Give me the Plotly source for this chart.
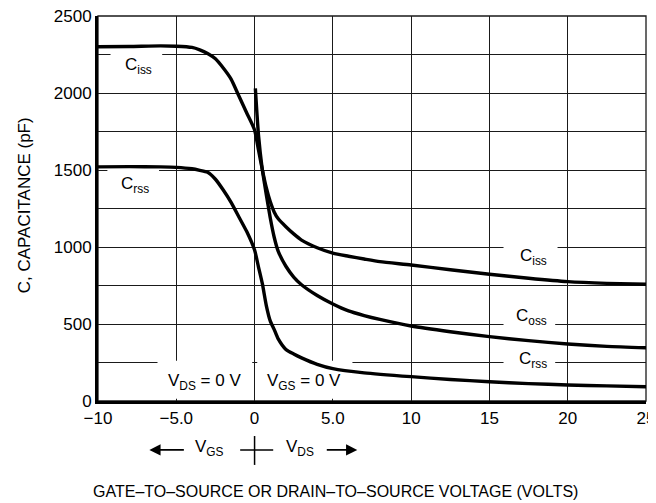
import plotly.graph_objects as go

# ---- data ----
ciss_x = [-10, -8, -6, -5, -4, -3.5, -3, -2.5, -2, -1.5, -1, -0.5, 0, 0.25, 0.5, 0.75, 1.0, 1.25, 1.5, 2, 2.5, 3, 4, 5, 6, 7, 8, 10, 12.5, 15, 17.5, 20, 22.5, 25]
ciss_y = [2300, 2302, 2306, 2304, 2296, 2280, 2256, 2222, 2162, 2090, 1980, 1870, 1760, 1630, 1500, 1385, 1295, 1228, 1185, 1132, 1085, 1045, 995, 960, 940, 922, 905, 883, 852, 823, 797, 775, 764, 758]

coss_x = [0.05, 0.15, 0.26, 0.47, 0.75, 1.0, 1.25, 1.5, 2, 2.5, 3, 4, 5, 6, 7, 8, 10, 12.5, 15, 17.5, 20, 22.5, 25]
coss_y = [2030, 1870, 1716, 1521, 1340, 1190, 1065, 975, 875, 805, 755, 685, 630, 585, 555, 530, 487, 450, 418, 392, 370, 355, 346]

crss_x = [-10, -8, -6, -5, -4, -3.5, -3, -2.5, -2, -1.5, -1, -0.5, 0, 0.25, 0.5, 0.75, 1.0, 1.25, 1.5, 2, 2.5, 3, 4, 5, 7, 10, 12.5, 15, 17.5, 20, 22.5, 25]
crss_y = [1520, 1522, 1520, 1517, 1508, 1498, 1485, 1440, 1370, 1290, 1195, 1100, 980, 870, 760, 620, 520, 465, 405, 335, 305, 280, 238, 210, 183, 158, 140, 125, 113, 104, 98, 93]

x_tickvals = [-10, -5, 0, 5, 10, 15, 20, 25]
x_ticktext = ["\u221210", "\u22125.0", "0", "5.0", "10", "15", "20", "25"]
y_tickvals = [0, 500, 1000, 1500, 2000, 2500]
y_ticktext = ["0", "500", "1000", "1500", "2000", "2500"]

FONT = "Liberation Sans, Arial, sans-serif"
FS = 17
FS_TITLE = 16
GRID = "#1a1a1a"

fig = go.Figure()
for name, xs, ys in [("Ciss", ciss_x, ciss_y), ("Coss", coss_x, coss_y), ("Crss", crss_x, crss_y)]:
    fig.add_trace(go.Scatter(x=xs, y=ys, mode="lines", name=name,
                             line=dict(color="black", width=3.4, shape="spline", smoothing=0.6),
                             hoverinfo="skip"))

# thin frame on top / right
fig.add_shape(type="rect", xref="paper", yref="paper", x0=0, x1=1, y0=0, y1=1,
              line=dict(color=GRID, width=1.3), fillcolor="rgba(0,0,0,0)", layer="between")

# white label backgrounds (between gridlines and traces)
boxes = [(-9.2, -5.9, 2215, 2285), (-9.4, -6.1, 1465, 1535),
         (15.9, 19.35, 960, 1040), (15.9, 19.2, 460, 540), (15.9, 19.2, 215, 290),
         (-6.2, -0.15, 15, 262), (0.17, 6.25, 15, 262)]
for x0, x1, y0, y1 in boxes:
    fig.add_shape(type="rect", xref="x", yref="y", x0=x0, x1=x1, y0=y0, y1=y1,
                  fillcolor="white", line=dict(width=0), layer="between")

labels = [("C<sub>iss</sub>", -7.43, 2175), ("C<sub>rss</sub>", -7.62, 1403),
          ("C<sub>iss</sub>", 17.8, 935), ("C<sub>oss</sub>", 17.7, 545), ("C<sub>rss</sub>", 17.8, 266),
          ("V<sub>DS</sub> = 0 V", -3.2, 123), ("V<sub>GS</sub> = 0 V", 3.17, 123)]
for t, x, y in labels:
    fig.add_annotation(text=t, x=x, y=y, xref="x", yref="y", showarrow=False,
                       xanchor="center", yanchor="middle",
                       font=dict(family=FONT, size=FS, color="black"))

# V_GS / V_DS indicator under the axis
row_y = -0.122
for t, x in [("V<sub>GS</sub>", -2.86), ("V<sub>DS</sub>", 2.92)]:
    fig.add_annotation(text=t, x=x, y=row_y, xref="x", yref="paper", showarrow=False,
                       xanchor="center", yanchor="middle",
                       font=dict(family=FONT, size=FS, color="black"))
fig.add_annotation(text="", x=-6.72, y=-0.127, xref="x", yref="paper", ax=36, ay=0,
                   showarrow=True, arrowhead=2, arrowsize=1.4, arrowwidth=1.6, arrowcolor="black", standoff=0)
fig.add_annotation(text="", x=6.56, y=-0.127, xref="x", yref="paper", ax=-32, ay=0,
                   showarrow=True, arrowhead=2, arrowsize=1.4, arrowwidth=1.6, arrowcolor="black", standoff=0)
fig.add_shape(type="line", xref="x", yref="paper", x0=0, x1=0, y0=-0.091, y1=-0.166,
              line=dict(color="black", width=1.5))
fig.add_shape(type="line", xref="x", yref="paper", x0=-0.92, x1=1.19, y0=-0.127, y1=-0.127,
              line=dict(color="black", width=1.5))

# axis titles
fig.add_annotation(text="GATE\u2013TO\u2013SOURCE OR DRAIN\u2013TO\u2013SOURCE VOLTAGE (VOLTS)",
                   x=0.433, y=-0.234, xref="paper", yref="paper", showarrow=False,
                   xanchor="center", yanchor="middle",
                   font=dict(family=FONT, size=FS_TITLE, color="black"))
fig.add_annotation(text="C, CAPACITANCE (pF)", x=-0.1345, y=0.509, xref="paper", yref="paper",
                   showarrow=False, textangle=-90, xanchor="center", yanchor="middle",
                   font=dict(family=FONT, size=FS, color="black"))

# page body has an 8px margin, so the figure is 8px smaller on each side
fig.update_layout(
    width=648, height=495, margin=dict(l=90, r=10, t=8, b=102, autoexpand=False),
    plot_bgcolor="white", paper_bgcolor="white", showlegend=False,
    font=dict(family=FONT, size=FS, color="black"),
    xaxis=dict(range=[-10, 25], tickvals=x_tickvals, ticktext=x_ticktext, showgrid=True,
               gridcolor=GRID, gridwidth=1.2, zeroline=False, showline=True, linecolor="black",
               linewidth=3, ticks="", fixedrange=True, automargin=False, ticklabeloverflow="allow"),
    yaxis=dict(range=[0, 2500], tickvals=y_tickvals, ticktext=y_ticktext, showgrid=True,
               gridcolor=GRID, gridwidth=1.2, zeroline=False, showline=True, linecolor="black",
               linewidth=3, ticks="", fixedrange=True, automargin=False, ticklabeloverflow="allow",
               minor=dict(dtick=250, showgrid=True, gridcolor=GRID, gridwidth=1.2)),
)

fig.write_html("out.html")
